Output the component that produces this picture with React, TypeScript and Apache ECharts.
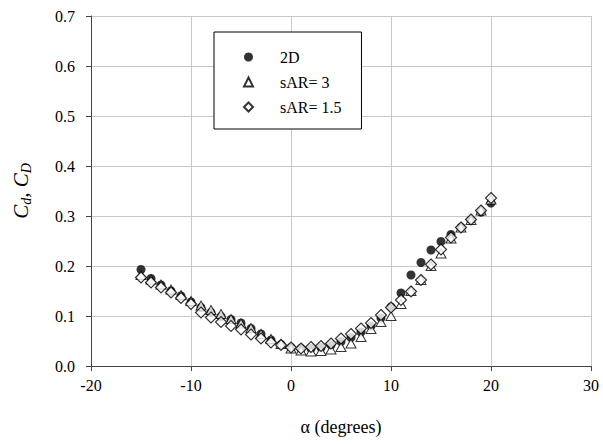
import React, { useEffect, useRef } from "react";
import * as echarts from "echarts";

const alpha = [-15, -14, -13, -12, -11, -10, -9, -8, -7, -6, -5, -4, -3, -2, -1, 0, 1, 2, 3, 4, 5, 6, 7, 8, 9, 10, 11, 12, 13, 14, 15, 16, 17, 18, 19, 20];

const cd2D = [0.193, 0.175, 0.162, 0.150, 0.140, 0.128, 0.117, 0.107, 0.099, 0.093, 0.086, 0.075, 0.064, 0.052, 0.043, 0.037, 0.035, 0.035, 0.037, 0.042, 0.049, 0.057, 0.068, 0.080, 0.096, 0.118, 0.146, 0.182, 0.207, 0.232, 0.249, 0.263, 0.277, 0.292, 0.308, 0.326];

const cdSAR3 = [0.182, 0.173, 0.163, 0.153, 0.142, 0.130, 0.121, 0.112, 0.104, 0.094, 0.085, 0.076, 0.064, 0.054, 0.044, 0.035, 0.031, 0.029, 0.030, 0.033, 0.038, 0.045, 0.058, 0.074, 0.088, 0.100, 0.124, 0.150, 0.172, 0.200, 0.225, 0.255, 0.277, 0.292, 0.311, 0.333];

const cdSAR15 = [0.177, 0.167, 0.157, 0.147, 0.136, 0.124, 0.107, 0.097, 0.088, 0.080, 0.073, 0.063, 0.055, 0.047, 0.042, 0.037, 0.035, 0.038, 0.040, 0.045, 0.055, 0.064, 0.075, 0.086, 0.102, 0.117, 0.132, 0.149, 0.172, 0.203, 0.233, 0.257, 0.277, 0.293, 0.311, 0.336];

const seriesNames = ["2D", "sAR= 3", "sAR= 1.5"];
const xTicks = { min: -20, max: 30, interval: 10 };
const yTicks = { min: 0, max: 0.7, interval: 0.1 };

const FONT = "Liberation Serif";
const tickRich = { t: { fontFamily: FONT, fontSize: 16, color: "#000" } };

export default function App() {
  const ref = useRef<HTMLDivElement>(null);
  useEffect(() => {
    if (!ref.current) return;
    const chart = echarts.init(ref.current, undefined, { renderer: "svg" });
    const pair = (ys: number[]) => alpha.map((a, i) => [a, ys[i]]);
    chart.setOption({
      animation: false,
      backgroundColor: "#ffffff",
      textStyle: { fontFamily: FONT },
      grid: { left: 91, right: 12, top: 16, bottom: 78 },
      legend: {
        orient: "vertical",
        left: 214,
        top: 32,
        padding: [17, 20, 14, 29],
        itemGap: 9,
        itemWidth: 9,
        itemHeight: 9,
        borderColor: "#000000",
        borderWidth: 1,
        backgroundColor: "#ffffff",
        textStyle: { fontFamily: FONT, fontSize: 16, color: "#000", padding: [0, 0, 0, 22] },
        data: [
          { name: seriesNames[0], icon: "circle", itemStyle: { borderWidth: 0 } },
          { name: seriesNames[1], icon: "triangle" },
          { name: seriesNames[2], icon: "diamond" },
        ],
      },
      xAxis: {
        type: "value",
        min: xTicks.min,
        max: xTicks.max,
        interval: xTicks.interval,
        name: "α (degrees)",
        nameLocation: "middle",
        nameGap: 52,
        nameTextStyle: { fontFamily: FONT, fontSize: 18, color: "#000" },
        axisLine: { show: true, onZero: false, lineStyle: { color: "#444", width: 1 } },
        axisTick: { show: true, inside: false, length: 5, lineStyle: { color: "#444" } },
        axisLabel: {
          fontFamily: FONT,
          fontSize: 16,
          color: "#000",
          margin: 11,
          formatter: (v: number) => "{t|" + String(v) + "}",
          rich: tickRich,
        },
        splitLine: { show: true, lineStyle: { color: "#c8c8c8", width: 1 } },
      },
      yAxis: {
        type: "value",
        min: yTicks.min,
        max: yTicks.max,
        interval: yTicks.interval,
        name: "{i|C}{s|d}{i|, C}{s|D}",
        nameLocation: "middle",
        nameGap: 58,
        nameRotate: 90,
        nameTextStyle: {
          fontFamily: FONT,
          color: "#000",
          rich: {
            i: { fontFamily: FONT, fontStyle: "italic", fontSize: 21, color: "#000" },
            s: { fontFamily: FONT, fontStyle: "italic", fontSize: 14, color: "#000", verticalAlign: "bottom", padding: [10, 0, 0, 0] },
          },
        },
        axisLine: { show: true, onZero: false, lineStyle: { color: "#444", width: 1 } },
        axisTick: { show: true, inside: false, length: 5, lineStyle: { color: "#444" } },
        axisLabel: {
          fontFamily: FONT,
          fontSize: 16,
          color: "#000",
          margin: 16,
          formatter: (v: number) => "{t|" + v.toFixed(1) + "}",
          rich: tickRich,
        },
        splitLine: { show: true, lineStyle: { color: "#c8c8c8", width: 1 } },
      },
      series: [
        {
          name: seriesNames[0],
          type: "scatter",
          symbol: "circle",
          symbolSize: 9,
          itemStyle: { color: "#000000", borderColor: "#000000", borderWidth: 0 },
          data: pair(cd2D),
          z: 2,
        },
        {
          name: seriesNames[1],
          type: "scatter",
          symbol: "triangle",
          symbolSize: [10, 9],
          itemStyle: { color: "#ffffff", borderColor: "#000000", borderWidth: 1 },
          data: pair(cdSAR3),
          z: 3,
        },
        {
          name: seriesNames[2],
          type: "scatter",
          symbol: "diamond",
          symbolSize: [11, 11],
          itemStyle: { color: "#ffffff", borderColor: "#000000", borderWidth: 1.2 },
          data: pair(cdSAR15),
          z: 4,
        },
      ],
    });
    return () => chart.dispose();
  }, []);
  return <div ref={ref} style={{ width: 603, height: 444, position: "fixed", left: 0, top: 0 }} />;
}
